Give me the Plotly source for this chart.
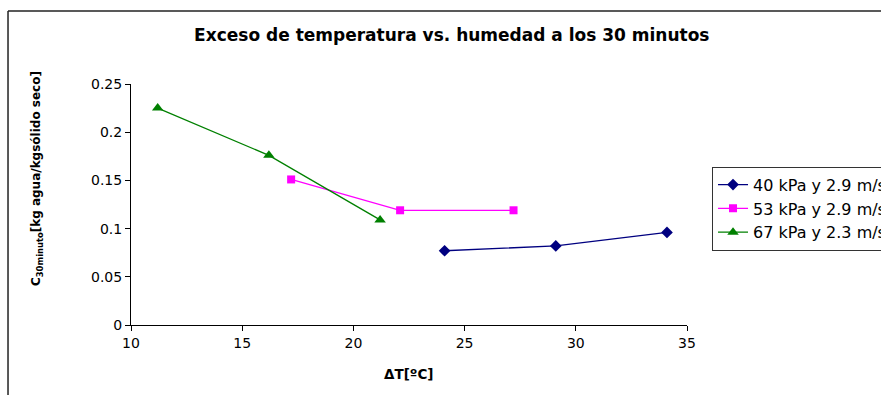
import plotly.graph_objects as go

# Humidity after 30 minutes versus temperature excess, three drying conditions
series_names = ["40 kPa y 2.9 m/s", "53 kPa y 2.9 m/s", "67 kPa y 2.3 m/s"]
dt_40 = [24.1, 29.1, 34.1]
c_40 = [0.077, 0.082, 0.096]
dt_53 = [17.2, 22.1, 27.2]
c_53 = [0.151, 0.119, 0.119]
dt_67 = [11.2, 16.2, 21.2]
c_67 = [0.225, 0.176, 0.109]

x_ticks = [10, 15, 20, 25, 30, 35]
y_ticks = [0, 0.05, 0.1, 0.15, 0.2, 0.25]
y_tick_text = ["0", "0.05", "0.1", "0.15", "0.2", "0.25"]

FONT = "DejaVu Sans, Arial, sans-serif"

fig = go.Figure()
fig.add_trace(go.Scatter(
    x=dt_40, y=c_40, name=series_names[0], mode="lines+markers",
    line=dict(color="#000080", width=1.3),
    marker=dict(symbol="diamond", size=9, color="#000080"),
))
fig.add_trace(go.Scatter(
    x=dt_53, y=c_53, name=series_names[1], mode="lines+markers",
    line=dict(color="#FF00FF", width=1.3),
    marker=dict(symbol="square", size=8, color="#FF00FF"),
))
fig.add_trace(go.Scatter(
    x=dt_67, y=c_67, name=series_names[2], mode="lines+markers",
    line=dict(color="#008000", width=1.3),
    marker=dict(symbol="triangle-up", size=10, color="#008000"),
))

axis_common = dict(
    showgrid=False, zeroline=False, showline=True, linecolor="black", linewidth=1,
    ticks="outside", ticklen=5, tickcolor="black", tickwidth=1,
    tickfont=dict(family=FONT, size=14, color="black"),
)

fig.update_layout(
    width=881, height=395,
    margin=dict(l=131, r=194, t=84, b=70, autoexpand=False),
    paper_bgcolor="white", plot_bgcolor="white",
    font=dict(family=FONT, color="black"),
    title=dict(
        text="<b>Exceso de temperatura vs. humedad a los 30 minutos</b>",
        font=dict(family=FONT, size=17, color="black"),
        x=0.577, xref="paper", xanchor="center",
        y=1 - 35.5 / 395, yref="container", yanchor="middle",
    ),
    xaxis=dict(range=[10, 35], tickvals=x_ticks, **axis_common),
    yaxis=dict(range=[0, 0.25], tickvals=y_ticks, ticktext=y_tick_text, **axis_common),
    legend=dict(
        x=1.045, xanchor="left", y=0.657, yanchor="top",
        bordercolor="#333333", borderwidth=1, bgcolor="white",
        font=dict(family=FONT, size=16, color="black"),
        itemwidth=30,
    ),
    showlegend=True,
)

# Axis titles
fig.add_annotation(
    text="<b>C<sub>30minuto</sub>[kg agua/kgsólido seco]</b>",
    xref="paper", yref="paper", x=-0.168, y=0.608,
    textangle=-90, showarrow=False,
    font=dict(family=FONT, size=12, color="black"),
    xanchor="center", yanchor="middle",
)
fig.add_annotation(
    text="<b>ΔT[ºC]</b>",
    xref="paper", yref="paper", x=0.5, y=-0.205,
    showarrow=False,
    font=dict(family=FONT, size=13.5, color="black"),
    xanchor="center", yanchor="middle",
)

# Outer chart-area frame (left and top edges visible)
fig.add_shape(type="line", xref="paper", yref="paper",
              x0=-0.2212, x1=-0.2212, y0=1.303, y1=-0.4,
              line=dict(color="#222222", width=1.5))
fig.add_shape(type="line", xref="paper", yref="paper",
              x0=-0.2212, x1=1.4, y0=1.303, y1=1.303,
              line=dict(color="#222222", width=1.5))

fig.write_html("out.html")
